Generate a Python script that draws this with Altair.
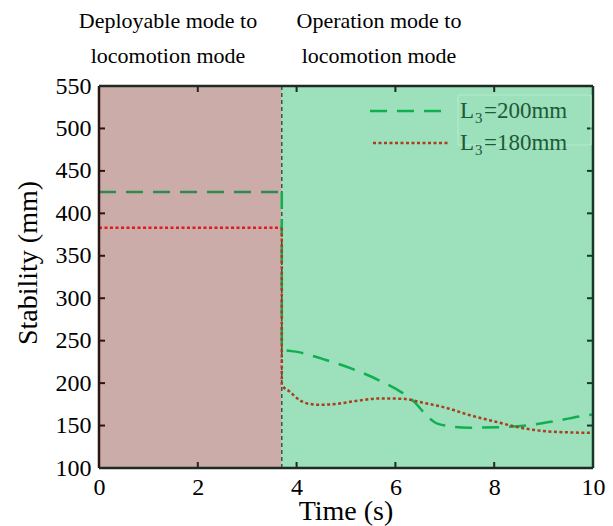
import altair as alt
import pandas as pd

# ---- data ----
t_switch = 3.7
left_t = [0.0, 3.7]
left_green = [425, 425]
left_red = [383, 383]

green_t = [3.7, 3.7, 4.04, 4.58, 5.14, 5.68, 6.18, 6.4, 6.55, 6.69, 6.82, 6.96, 7.49, 8.1, 8.7, 9.25, 9.82, 10.0]
green_v = [425, 240, 236.5, 227.5, 216.5, 203, 187, 177, 167, 158.5, 153, 150.5, 147.5, 148, 150.5, 155.5, 161.5, 163]

red_t = [3.7, 3.7, 3.86, 4.06, 4.26, 4.46, 4.8, 5.2, 5.74, 6.15, 6.55, 7.02, 7.49, 8.03, 8.57, 9.11, 9.5, 9.88, 10.0]
red_v = [383, 198, 190, 180, 175.5, 174.5, 175.5, 179, 182, 181.5, 177, 171, 162.5, 154.5, 147, 143, 142, 141.5, 141.5]

x_ticks = [0, 2, 4, 6, 8, 10]
y_ticks = [100, 150, 200, 250, 300, 350, 400, 450, 500, 550]

W, H = 494, 382
FONT = "Times New Roman, Liberation Serif, DejaVu Serif, serif"

def seq(ts, vs):
    return pd.DataFrame({"t": ts, "v": vs, "i": list(range(len(ts)))})

xs = alt.Scale(domain=[0, 10], nice=False, zero=False)
ys = alt.Scale(domain=[100, 550], nice=False, zero=False)

bg = pd.DataFrame({"t0": [0, t_switch], "t1": [t_switch, 10],
                   "c": ["#CCACA8", "#9CE0BC"], "y0": [100, 100], "y1": [550, 550]})
background = alt.Chart(bg).mark_rect().encode(
    x=alt.X("t0:Q", scale=xs,
            axis=alt.Axis(values=x_ticks, title=None, ticks=False, domain=False, grid=False,
                          labelFlush=False,
                          labelFont=FONT, labelFontSize=24, labelColor="black", labelPadding=7)),
    x2="t1:Q",
    y=alt.Y("y0:Q", scale=ys,
            axis=alt.Axis(values=y_ticks, title=None, ticks=False, domain=False, grid=False,
                          labelFlush=False,
                          labelFont=FONT, labelFontSize=24, labelColor="black", labelPadding=8)),
    y2="y1:Q",
    color=alt.Color("c:N", scale=None),
)

def line(df, color, dash, width=2.5):
    return alt.Chart(df).mark_line(color=color, strokeDash=dash, strokeWidth=width,
                                   interpolate="monotone").encode(
        x=alt.X("t:Q", scale=xs), y=alt.Y("v:Q", scale=ys), order="i:Q")

g_left = line(seq(left_t, left_green), "#2E8B50", [17, 10])
r_left = line(seq(left_t, left_red), "#E01A1E", [3, 2.5])
g_right = line(seq(green_t, green_v), "#10B050", [17, 10])
r_right = line(seq(red_t, red_v), "#A83E22", [3, 2.5])

one = pd.DataFrame({"a": [0]})
sep = alt.Chart(pd.DataFrame({"t": [t_switch], "a": [100], "b": [550]})).mark_rule(
    color="#2F5A45", strokeDash=[4, 3], strokeWidth=1.5).encode(
    x=alt.X("t:Q", scale=xs), y=alt.Y("a:Q", scale=ys), y2="b:Q")

# inside ticks
ytk = pd.DataFrame({"v": y_ticks[1:-1]})
xtk = pd.DataFrame({"t": x_ticks[1:-1]})
tk_l = alt.Chart(ytk).mark_rule(color="#2A1512", strokeWidth=2).encode(
    y=alt.Y("v:Q", scale=ys), x=alt.value(0), x2=alt.value(6))
tk_r = alt.Chart(ytk).mark_rule(color="#143A26", strokeWidth=2).encode(
    y=alt.Y("v:Q", scale=ys), x=alt.value(W), x2=alt.value(W - 6))
tk_b = alt.Chart(xtk).mark_rule(color="#1E2A22", strokeWidth=2).encode(
    x=alt.X("t:Q", scale=xs), y=alt.value(H), y2=alt.value(H - 6))
tk_t = alt.Chart(xtk).mark_rule(color="#1E2A22", strokeWidth=2).encode(
    x=alt.X("t:Q", scale=xs), y=alt.value(0), y2=alt.value(6))

# frame
frame = [
    alt.Chart(one).mark_rule(color="#2A1512", strokeWidth=2.5).encode(
        x=alt.value(0), y=alt.value(0), y2=alt.value(H)),
    alt.Chart(one).mark_rule(color="#143A26", strokeWidth=2.5).encode(
        x=alt.value(W), y=alt.value(0), y2=alt.value(H)),
    alt.Chart(one).mark_rule(color="#1E2A22", strokeWidth=2.5).encode(
        y=alt.value(0), x=alt.value(0), x2=alt.value(W)),
    alt.Chart(one).mark_rule(color="#1E2A22", strokeWidth=2.5).encode(
        y=alt.value(H), x=alt.value(0), x2=alt.value(W)),
]

# legend
leg_box = alt.Chart(one).mark_rect(fill=None, stroke="#B8ECCF", strokeWidth=1).encode(
    x=alt.value(359), x2=alt.value(W - 2), y=alt.value(9), y2=alt.value(59))
leg_g = alt.Chart(one).mark_rule(color="#10B050", strokeDash=[17, 10], strokeWidth=2.5).encode(
    x=alt.value(271), x2=alt.value(346), y=alt.value(25))
leg_r = alt.Chart(one).mark_rule(color="#A83E22", strokeDash=[3, 2.5], strokeWidth=2.5).encode(
    x=alt.value(274), x2=alt.value(349), y=alt.value(57))

def txt(s, x, y, size=23, color="#1E5A35", align="left", angle=0):
    return alt.Chart(one).mark_text(font=FONT, fontSize=size, color=color, align=align,
                                    baseline="alphabetic", angle=angle).encode(
        x=alt.value(x), y=alt.value(y), text=alt.value(s))

legend_texts = [
    txt("L", 361, 32), txt("3", 376, 37, size=15), txt("=200mm", 385, 32),
    txt("L", 361, 64), txt("3", 376, 69, size=15), txt("=180mm", 385, 64),
]

top_texts = [
    txt("Deployable mode to", 69, -58, size=22, color="black", align="center"),
    txt("locomotion mode", 69, -23, size=22, color="black", align="center"),
    txt("Operation mode to", 280, -58, size=22, color="black", align="center"),
    txt("locomotion mode", 280, -23, size=22, color="black", align="center"),
]

titles = [
    txt("Time (s)", W / 2, 434, size=28, color="black", align="center"),
    txt("Stability (mm)", -62, 177, size=28, color="black", align="center", angle=270),
]

chart = alt.layer(
    background, g_left, r_left, sep, g_right, r_right,
    tk_l, tk_r, tk_b, tk_t, *frame, leg_box, leg_g, leg_r, *legend_texts, *top_texts, *titles
).properties(
    width=W, height=H,
    autosize=alt.AutoSizeParams(type="none"),
    padding={"left": 99, "top": 86, "right": 20, "bottom": 58},
).configure_view(stroke=None).configure(background="white")

chart.save("out.html", embed_options={"renderer": "svg", "actions": False})
